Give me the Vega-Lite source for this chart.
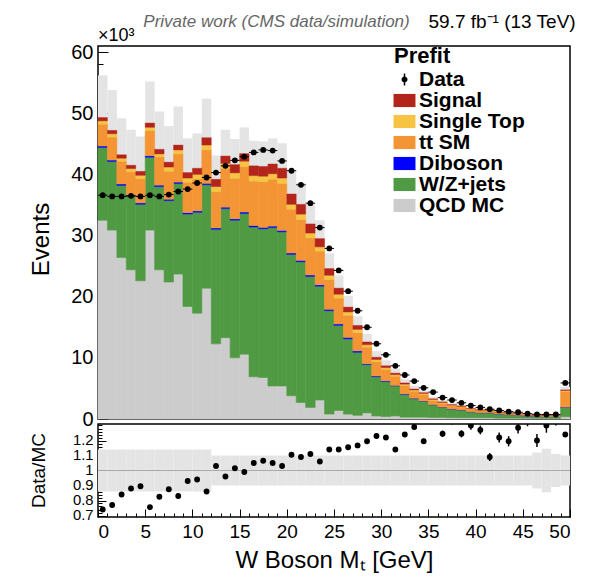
{
  "$schema": "https://vega.github.io/schema/vega-lite/v6.json",
  "background": "white",
  "padding": {"left": 28, "top": 11, "right": 0, "bottom": 0},
  "bounds": "flush",
  "config": {
    "font": "Liberation Sans",
    "view": {"stroke": "black", "strokeWidth": 1.5},
    "axis": {"labelFont": "Liberation Sans", "titleFont": "Liberation Sans", "labelColor": "black", "titleColor": "black", "tickColor": "black", "domain": false, "grid": false, "titleFontWeight": "normal", "labelOverlap": false}
  },
  "data": {"values": [
    {"x":0,"x2":1,"xc":0.5,"q":32.5,"w":44.4,"v":44.65,"t":48.2,"s":48.75,"tot":49.3,"lo":42.4,"hi":56.2,"d":36.6,"r":0.74,"re":0.006,"rlo":0.86,"rhi":1.14},
    {"x":1,"x2":2,"xc":1.5,"q":30.9,"w":42.1,"v":42.35,"t":46.1,"s":46.65,"tot":47.2,"lo":40.6,"hi":53.8,"d":36.4,"r":0.77,"re":0.006,"rlo":0.86,"rhi":1.14},
    {"x":2,"x2":3,"xc":2.5,"q":26.4,"w":38.2,"v":38.45,"t":42.15,"s":42.65,"tot":43.2,"lo":37.2,"hi":49.2,"d":36.4,"r":0.84,"re":0.006,"rlo":0.86,"rhi":1.14},
    {"x":3,"x2":4,"xc":3.5,"q":24.4,"w":36.4,"v":36.65,"t":40.4,"s":40.95,"tot":41.5,"lo":35.7,"hi":47.3,"d":36.5,"r":0.88,"re":0.006,"rlo":0.86,"rhi":1.14},
    {"x":4,"x2":5,"xc":4.5,"q":22.6,"w":35.1,"v":35.35,"t":39.3,"s":39.85,"tot":40.5,"lo":34.8,"hi":46.2,"d":36.4,"r":0.895,"re":0.006,"rlo":0.86,"rhi":1.14},
    {"x":5,"x2":6,"xc":5.5,"q":30.9,"w":42.8,"v":43.05,"t":47.15,"s":47.7,"tot":48.4,"lo":41.6,"hi":55.2,"d":36.6,"r":0.755,"re":0.006,"rlo":0.86,"rhi":1.14},
    {"x":6,"x2":7,"xc":6.5,"q":24.4,"w":38.0,"v":38.25,"t":42.85,"s":43.35,"tot":44.1,"lo":37.9,"hi":50.3,"d":36.4,"r":0.825,"re":0.006,"rlo":0.86,"rhi":1.14},
    {"x":7,"x2":8,"xc":7.5,"q":22.4,"w":35.7,"v":35.95,"t":40.5,"s":41.2,"tot":42.0,"lo":36.1,"hi":47.9,"d":36.7,"r":0.875,"re":0.006,"rlo":0.86,"rhi":1.14},
    {"x":8,"x2":9,"xc":8.5,"q":23.7,"w":38.5,"v":38.75,"t":43.35,"s":44.0,"tot":44.8,"lo":38.5,"hi":51.1,"d":37.2,"r":0.83,"re":0.006,"rlo":0.86,"rhi":1.14},
    {"x":9,"x2":10,"xc":9.5,"q":18.4,"w":33.5,"v":33.75,"t":38.7,"s":39.4,"tot":40.3,"lo":34.7,"hi":45.9,"d":37.6,"r":0.93,"re":0.006,"rlo":0.86,"rhi":1.14},
    {"x":10,"x2":11,"xc":10.5,"q":17.3,"w":33.8,"v":34.05,"t":39.25,"s":40.0,"tot":41.0,"lo":35.3,"hi":46.7,"d":38.6,"r":0.94,"re":0.006,"rlo":0.86,"rhi":1.14},
    {"x":11,"x2":12,"xc":11.5,"q":21.4,"w":38.3,"v":38.55,"t":44.0,"s":44.8,"tot":46.0,"lo":39.6,"hi":52.4,"d":39.5,"r":0.86,"re":0.006,"rlo":0.86,"rhi":1.14},
    {"x":12,"x2":13,"xc":12.5,"q":12.3,"w":31.0,"v":31.25,"t":37.15,"s":38.0,"tot":39.2,"lo":35.3,"hi":43.1,"d":40.3,"r":1.03,"re":0.006,"rlo":0.9,"rhi":1.1},
    {"x":13,"x2":14,"xc":13.5,"q":13.3,"w":34.4,"v":34.65,"t":41.0,"s":41.8,"tot":43.0,"lo":38.7,"hi":47.3,"d":41.4,"r":0.96,"re":0.006,"rlo":0.9,"rhi":1.1},
    {"x":14,"x2":15,"xc":14.5,"q":10.0,"w":32.5,"v":32.75,"t":39.35,"s":40.25,"tot":41.6,"lo":37.4,"hi":45.8,"d":42.3,"r":1.015,"re":0.006,"rlo":0.9,"rhi":1.1},
    {"x":15,"x2":16,"xc":15.5,"q":10.6,"w":33.6,"v":33.85,"t":41.25,"s":42.15,"tot":43.4,"lo":39.1,"hi":47.7,"d":42.9,"r":0.99,"re":0.006,"rlo":0.9,"rhi":1.1},
    {"x":16,"x2":17,"xc":16.5,"q":6.9,"w":31.4,"v":31.65,"t":38.9,"s":39.8,"tot":41.4,"lo":37.3,"hi":45.5,"d":43.6,"r":1.05,"re":0.006,"rlo":0.9,"rhi":1.1},
    {"x":17,"x2":18,"xc":17.5,"q":6.8,"w":31.1,"v":31.35,"t":38.8,"s":39.7,"tot":41.3,"lo":37.2,"hi":45.4,"d":44.0,"r":1.065,"re":0.006,"rlo":0.9,"rhi":1.1},
    {"x":18,"x2":19,"xc":18.5,"q":5.4,"w":31.3,"v":31.55,"t":39.2,"s":40.1,"tot":41.7,"lo":37.5,"hi":45.9,"d":43.9,"r":1.05,"re":0.006,"rlo":0.9,"rhi":1.1},
    {"x":19,"x2":20,"xc":19.5,"q":5.4,"w":30.6,"v":30.85,"t":38.5,"s":39.4,"tot":41.0,"lo":36.9,"hi":45.1,"d":42.2,"r":1.03,"re":0.006,"rlo":0.9,"rhi":1.1},
    {"x":20,"x2":21,"xc":20.5,"q":3.8,"w":26.9,"v":27.15,"t":34.3,"s":35.1,"tot":36.8,"lo":33.1,"hi":40.5,"d":40.6,"r":1.105,"re":0.006,"rlo":0.9,"rhi":1.1},
    {"x":21,"x2":22,"xc":21.5,"q":2.7,"w":25.7,"v":25.95,"t":32.6,"s":33.5,"tot":35.1,"lo":31.6,"hi":38.6,"d":38.3,"r":1.09,"re":0.006,"rlo":0.9,"rhi":1.1},
    {"x":22,"x2":23,"xc":22.5,"q":1.9,"w":23.3,"v":23.55,"t":29.6,"s":30.4,"tot":31.9,"lo":28.7,"hi":35.1,"d":35.3,"r":1.11,"re":0.006,"rlo":0.9,"rhi":1.1},
    {"x":23,"x2":24,"xc":23.5,"q":3.1,"w":21.7,"v":21.95,"t":27.45,"s":28.15,"tot":29.5,"lo":26.6,"hi":32.5,"d":31.3,"r":1.06,"re":0.007,"rlo":0.9,"rhi":1.1},
    {"x":24,"x2":25,"xc":24.5,"q":0.8,"w":17.7,"v":17.95,"t":22.8,"s":23.5,"tot":24.6,"lo":22.1,"hi":27.1,"d":27.9,"r":1.14,"re":0.007,"rlo":0.9,"rhi":1.1},
    {"x":25,"x2":26,"xc":25.5,"q":1.4,"w":15.3,"v":15.55,"t":19.75,"s":20.4,"tot":21.4,"lo":19.3,"hi":23.5,"d":24.3,"r":1.14,"re":0.007,"rlo":0.9,"rhi":1.1},
    {"x":26,"x2":27,"xc":26.5,"q":0.8,"w":13.1,"v":13.35,"t":16.95,"s":17.5,"tot":18.3,"lo":16.5,"hi":20.1,"d":20.9,"r":1.155,"re":0.008,"rlo":0.9,"rhi":1.1},
    {"x":27,"x2":28,"xc":27.5,"q":0.6,"w":10.9,"v":11.15,"t":14.1,"s":14.65,"tot":15.3,"lo":13.8,"hi":16.8,"d":17.7,"r":1.167,"re":0.009,"rlo":0.9,"rhi":1.1},
    {"x":28,"x2":29,"xc":28.5,"q":1.0,"w":8.9,"v":9.05,"t":11.75,"s":12.15,"tot":12.6,"lo":11.3,"hi":13.9,"d":15.0,"r":1.195,"re":0.01,"rlo":0.9,"rhi":1.1},
    {"x":29,"x2":30,"xc":29.5,"q":0.5,"w":6.9,"v":7.05,"t":9.37,"s":9.72,"tot":10.1,"lo":9.1,"hi":11.1,"d":12.3,"r":1.23,"re":0.011,"rlo":0.9,"rhi":1.1},
    {"x":30,"x2":31,"xc":30.5,"q":0.4,"w":6.1,"v":6.25,"t":8.1,"s":8.4,"tot":8.7,"lo":7.8,"hi":9.6,"d":10.5,"r":1.22,"re":0.012,"rlo":0.9,"rhi":1.1},
    {"x":31,"x2":32,"xc":31.5,"q":0.5,"w":5.4,"v":5.5,"t":7.0,"s":7.25,"tot":7.5,"lo":6.75,"hi":8.25,"d":8.7,"r":1.14,"re":0.012,"rlo":0.9,"rhi":1.1},
    {"x":32,"x2":33,"xc":32.5,"q":0.3,"w":4.0,"v":4.1,"t":5.48,"s":5.7,"tot":5.9,"lo":5.3,"hi":6.5,"d":7.2,"r":1.24,"re":0.015,"rlo":0.9,"rhi":1.1},
    {"x":33,"x2":34,"xc":33.5,"q":0.3,"w":3.3,"v":3.4,"t":4.55,"s":4.75,"tot":4.9,"lo":4.4,"hi":5.4,"d":6.2,"r":1.29,"re":0.016,"rlo":0.9,"rhi":1.1},
    {"x":34,"x2":35,"xc":34.5,"q":0.3,"w":2.9,"v":2.95,"t":4.0,"s":4.18,"tot":4.3,"lo":3.87,"hi":4.73,"d":5.1,"r":1.195,"re":0.017,"rlo":0.9,"rhi":1.1},
    {"x":35,"x2":36,"xc":35.5,"q":0.25,"w":2.3,"v":2.35,"t":3.05,"s":3.2,"tot":3.3,"lo":2.97,"hi":3.63,"d":4.4,"r":1.34,"re":0.02,"rlo":0.9,"rhi":1.1},
    {"x":36,"x2":37,"xc":36.5,"q":0.25,"w":1.9,"v":1.95,"t":2.58,"s":2.7,"tot":2.8,"lo":2.52,"hi":3.08,"d":3.5,"r":1.245,"re":0.021,"rlo":0.9,"rhi":1.1},
    {"x":37,"x2":38,"xc":37.5,"q":0.2,"w":1.6,"v":1.65,"t":2.17,"s":2.27,"tot":2.35,"lo":2.12,"hi":2.59,"d":3.1,"r":1.33,"re":0.024,"rlo":0.9,"rhi":1.1},
    {"x":38,"x2":39,"xc":38.5,"q":0.2,"w":1.45,"v":1.5,"t":1.96,"s":2.06,"tot":2.13,"lo":1.92,"hi":2.34,"d":2.65,"r":1.245,"re":0.024,"rlo":0.9,"rhi":1.1},
    {"x":39,"x2":40,"xc":39.5,"q":0.2,"w":1.15,"v":1.2,"t":1.56,"s":1.64,"tot":1.7,"lo":1.53,"hi":1.87,"d":2.2,"r":1.3,"re":0.028,"rlo":0.9,"rhi":1.1},
    {"x":40,"x2":41,"xc":40.5,"q":0.2,"w":1.0,"v":1.05,"t":1.38,"s":1.45,"tot":1.5,"lo":1.35,"hi":1.65,"d":1.9,"r":1.27,"re":0.029,"rlo":0.9,"rhi":1.1},
    {"x":41,"x2":42,"xc":41.5,"q":0.2,"w":1.0,"v":1.04,"t":1.35,"s":1.42,"tot":1.47,"lo":1.32,"hi":1.62,"d":1.6,"r":1.09,"re":0.027,"rlo":0.9,"rhi":1.1},
    {"x":42,"x2":43,"xc":42.5,"q":0.15,"w":0.8,"v":0.84,"t":1.05,"s":1.11,"tot":1.15,"lo":1.04,"hi":1.27,"d":1.4,"r":1.22,"re":0.033,"rlo":0.9,"rhi":1.1},
    {"x":43,"x2":44,"xc":43.5,"q":0.15,"w":0.7,"v":0.74,"t":0.91,"s":0.96,"tot":1.0,"lo":0.9,"hi":1.1,"d":1.2,"r":1.195,"re":0.034,"rlo":0.9,"rhi":1.1},
    {"x":44,"x2":45,"xc":44.5,"q":0.15,"w":0.6,"v":0.63,"t":0.78,"s":0.83,"tot":0.86,"lo":0.77,"hi":0.95,"d":1.1,"r":1.285,"re":0.039,"rlo":0.9,"rhi":1.1},
    {"x":45,"x2":46,"xc":45.5,"q":0.15,"w":0.45,"v":0.48,"t":0.58,"s":0.62,"tot":0.65,"lo":0.59,"hi":0.72,"d":0.87,"r":1.34,"re":0.045,"rlo":0.9,"rhi":1.1},
    {"x":46,"x2":47,"xc":46.5,"q":0.12,"w":0.45,"v":0.48,"t":0.56,"s":0.6,"tot":0.63,"lo":0.55,"hi":0.71,"d":0.76,"r":1.2,"re":0.044,"rlo":0.88,"rhi":1.12},
    {"x":47,"x2":48,"xc":47.5,"q":0.12,"w":0.4,"v":0.43,"t":0.5,"s":0.54,"tot":0.57,"lo":0.49,"hi":0.65,"d":0.74,"r":1.3,"re":0.048,"rlo":0.855,"rhi":1.145},
    {"x":48,"x2":49,"xc":48.5,"q":0.12,"w":0.38,"v":0.41,"t":0.48,"s":0.52,"tot":0.55,"lo":0.49,"hi":0.61,"d":0.74,"r":1.35,"re":0.05,"rlo":0.89,"rhi":1.11},
    {"x":49,"x2":50,"xc":49.5,"q":0.37,"w":1.9,"v":1.95,"t":4.51,"s":4.66,"tot":4.76,"lo":4.28,"hi":5.24,"d":5.9,"r":1.24,"re":0.016,"rlo":0.9,"rhi":1.1}
  ]},
  "spacing": 5,
  "resolve": {"scale": {"color": "independent", "shape": "independent"}, "legend": {"color": "independent", "shape": "independent"}},
  "vconcat": [
    {
      "width": 472,
      "height": 373,
      "resolve": {"axis": {"y": "independent"}},
      "layer": [
        {
          "mark": {"type": "rect", "color": "#e4e4e4"},
          "encoding": {
            "x": {"field": "x", "type": "quantitative", "scale": {"domain": [0, 50], "nice": false, "zero": false}, "axis": null},
            "x2": {"field": "x2"},
            "y": {"field": "lo", "type": "quantitative", "scale": {"domain": [0, 61], "nice": false},
                  "axis": {"orient": "left", "values": [0, 10, 20, 30, 40, 50, 60], "format": "d", "tickSize": -10, "tickWidth": 1, "labelPadding": 15, "labelFontSize": 20,
                           "title": "Events", "titleFontSize": 24, "titleAngle": -90, "titleAlign": "center", "titleBaseline": "middle", "titleX": -57, "titleY": 193}},
            "y2": {"field": "hi"}
          }
        },
        {
          "mark": {"type": "rect", "stroke": "#cccccc", "strokeWidth": 0.6},
          "encoding": {
            "x": {"field": "x", "type": "quantitative", "axis": null},
            "x2": {"field": "x2"},
            "y": {"field": "q", "type": "quantitative",
                  "axis": {"orient": "left", "values": [2,4,6,8,12,14,16,18,22,24,26,28,32,34,36,38,42,44,46,48,52,54,56,58], "tickSize": -5, "tickWidth": 1, "labels": false, "title": null}},
            "y2": {"datum": 0},
            "color": {"datum": "QCD MC", "type": "nominal",
                      "scale": {"domain": ["Signal", "Single Top", "tt SM", "Diboson", "W/Z+jets", "QCD MC"],
                                "range": ["#b3241b", "#f6c343", "#f39535", "#0000ff", "#4f9a42", "#cccccc"]},
                      "legend": {"title": null, "orient": "none", "legendX": 296, "legendY": 44, "padding": 0,
                                 "labelFont": "Liberation Sans", "labelFontSize": 21, "labelFontWeight": "bold", "labelColor": "black", "labelOffset": 4,
                                 "rowPadding": -2.8, "symbolSize": 324, "symbolStrokeWidth": 0, "symbolOpacity": 1,
                                 "symbolType": "M-1.22,-0.73H1.22V0.73H-1.22Z"}}
          }
        },
        {
          "mark": {"type": "rect", "stroke": "#4f9a42", "strokeWidth": 0.6},
          "encoding": {
            "x": {"field": "x", "type": "quantitative", "axis": null}, "x2": {"field": "x2"},
            "y": {"field": "w", "type": "quantitative", "axis": null}, "y2": {"field": "q"},
            "color": {"datum": "W/Z+jets", "type": "nominal"}
          }
        },
        {
          "mark": {"type": "rect", "stroke": "#0000ff", "strokeWidth": 0.4},
          "encoding": {
            "x": {"field": "x", "type": "quantitative", "axis": null}, "x2": {"field": "x2"},
            "y": {"field": "v", "type": "quantitative", "axis": null}, "y2": {"field": "w"},
            "color": {"datum": "Diboson", "type": "nominal"}
          }
        },
        {
          "mark": {"type": "rect", "stroke": "#f39535", "strokeWidth": 0.6},
          "encoding": {
            "x": {"field": "x", "type": "quantitative", "axis": null}, "x2": {"field": "x2"},
            "y": {"field": "t", "type": "quantitative", "axis": null}, "y2": {"field": "v"},
            "color": {"datum": "tt SM", "type": "nominal"}
          }
        },
        {
          "mark": {"type": "rect", "stroke": "#f6c343", "strokeWidth": 0.4},
          "encoding": {
            "x": {"field": "x", "type": "quantitative", "axis": null}, "x2": {"field": "x2"},
            "y": {"field": "s", "type": "quantitative", "axis": null}, "y2": {"field": "t"},
            "color": {"datum": "Single Top", "type": "nominal"}
          }
        },
        {
          "mark": {"type": "rect", "stroke": "#b3241b", "strokeWidth": 0.4},
          "encoding": {
            "x": {"field": "x", "type": "quantitative", "axis": null}, "x2": {"field": "x2"},
            "y": {"field": "tot", "type": "quantitative", "axis": null}, "y2": {"field": "s"},
            "color": {"datum": "Signal", "type": "nominal"}
          }
        },
        {
          "mark": {"type": "rule", "color": "black", "strokeWidth": 1},
          "encoding": {
            "x": {"field": "x", "type": "quantitative", "axis": null}, "x2": {"field": "x2"},
            "y": {"field": "d", "type": "quantitative", "axis": null}
          }
        },
        {
          "mark": {"type": "point", "filled": true, "size": 34, "opacity": 1, "color": "black"},
          "encoding": {
            "x": {"field": "xc", "type": "quantitative", "axis": null},
            "y": {"field": "d", "type": "quantitative", "axis": null}
          }
        },
        {
          "transform": [{"filter": "datum.x < 0"}],
          "mark": {"type": "point", "filled": true, "opacity": 1, "color": "black"},
          "encoding": {
            "x": {"field": "xc", "type": "quantitative", "axis": null},
            "y": {"field": "d", "type": "quantitative", "axis": null},
            "shape": {"datum": "Data", "type": "nominal",
                      "scale": {"domain": ["Data"], "range": ["M-0.083,-0.667H0.083V0.667H-0.083ZM-0.333,0A0.333,0.333 0 1,1 0.333,0A0.333,0.333 0 1,1 -0.333,0Z"]},
                      "legend": {"title": "Prefit", "orient": "none", "legendX": 296, "legendY": 0, "padding": 0,
                                 "titleFont": "Liberation Sans", "titleFontSize": 22, "titleFontWeight": "bold", "titleColor": "black", "titlePadding": 1,
                                 "labelFont": "Liberation Sans", "labelFontSize": 21, "labelFontWeight": "bold", "labelColor": "black", "labelOffset": 4,
                                 "symbolSize": 324, "symbolStrokeWidth": 0, "symbolFillColor": "black", "symbolOpacity": 1}}
          }
        },
        {
          "data": {"values": [{}]},
          "mark": {"type": "text", "text": "×10³", "align": "left", "baseline": "middle", "fontSize": 18, "fontWeight": "normal", "font": "Liberation Sans", "color": "black"},
          "encoding": {"x": {"datum": 0, "type": "quantitative", "axis": null}, "y": {"datum": 62.6, "type": "quantitative", "axis": null}}
        },
        {
          "data": {"values": [{}]},
          "mark": {"type": "text", "text": "Private work (CMS data/simulation)", "align": "left", "baseline": "middle", "fontSize": 17, "fontStyle": "italic", "fontWeight": "normal", "font": "Liberation Sans", "color": "#666666"},
          "encoding": {"x": {"datum": 4.8, "type": "quantitative", "axis": null}, "y": {"datum": 65.0, "type": "quantitative", "axis": null}}
        },
        {
          "data": {"values": [{}]},
          "mark": {"type": "text", "text": "59.7 fb⁻¹ (13 TeV)", "align": "right", "baseline": "middle", "fontSize": 19, "fontWeight": "normal", "font": "Liberation Sans", "color": "black"},
          "encoding": {"x": {"datum": 50.6, "type": "quantitative", "axis": null}, "y": {"datum": 65.0, "type": "quantitative", "axis": null}}
        }
      ]
    },
    {
      "width": 472,
      "height": 93,
      "resolve": {"axis": {"y": "independent", "x": "independent"}},
      "layer": [
        {
          "mark": {"type": "rect", "color": "#e4e4e4"},
          "encoding": {
            "x": {"field": "x", "type": "quantitative", "scale": {"domain": [0, 50], "nice": false, "zero": false},
                  "axis": {"orient": "bottom", "values": [0,5,10,15,20,25,30,35,40,45,50], "tickSize": -8, "tickWidth": 1, "labelPadding": 13, "labelFontSize": 19,
                           "title": "W Boson Mₜ [GeV]", "titleFontSize": 24, "titlePadding": 7}},
            "x2": {"field": "x2"},
            "y": {"field": "rlo", "type": "quantitative", "scale": {"domain": [0.69, 1.31], "nice": false, "zero": false},
                  "axis": {"orient": "left", "values": [0.7, 0.8, 0.9, 1, 1.1, 1.2], "format": ".1~f", "tickSize": -8, "tickWidth": 1, "labelPadding": 13, "labelFontSize": 14.8,
                           "title": "Data/MC", "titleFontSize": 19, "titleAngle": -90, "titleAlign": "center", "titleBaseline": "middle", "titleX": -60, "titleY": 46}},
            "y2": {"field": "rhi"}
          }
        },
        {
          "mark": {"type": "rule", "color": "#aaaaaa", "strokeWidth": 1},
          "encoding": {"y": {"datum": 1, "type": "quantitative", "axis": null}}
        },
        {
          "mark": {"type": "errorbar", "ticks": false, "color": "black", "clip": true, "thickness": 1.5},
          "encoding": {
            "x": {"field": "xc", "type": "quantitative", "axis": null},
            "y": {"field": "r", "type": "quantitative", "axis": null},
            "yError": {"field": "re"}
          }
        },
        {
          "mark": {"type": "point", "filled": true, "size": 34, "opacity": 1, "color": "black", "clip": true},
          "encoding": {
            "x": {"field": "xc", "type": "quantitative",
                  "axis": {"orient": "bottom", "values": [1,2,3,4,6,7,8,9,11,12,13,14,16,17,18,19,21,22,23,24,26,27,28,29,31,32,33,34,36,37,38,39,41,42,43,44,46,47,48,49], "tickSize": -4, "tickWidth": 1, "labels": false, "title": null}},
            "y": {"field": "r", "type": "quantitative",
                  "axis": {"orient": "left", "values": [0.72,0.74,0.76,0.78,0.82,0.84,0.86,0.88,0.92,0.94,0.96,0.98,1.02,1.04,1.06,1.08,1.12,1.14,1.16,1.18,1.22,1.24,1.26,1.28,1.3], "tickSize": -4, "tickWidth": 1, "labels": false, "title": null}}
          }
        }
      ]
    }
  ]
}
